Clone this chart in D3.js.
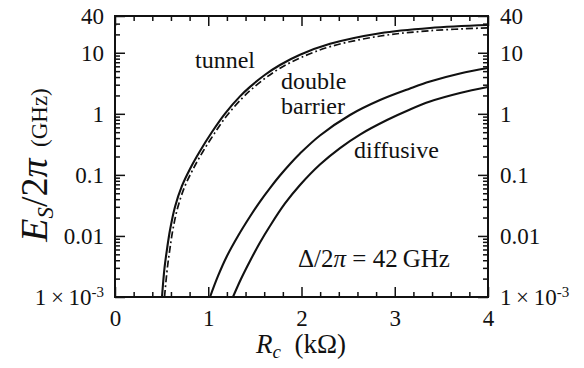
<!DOCTYPE html>
<html><head><meta charset="utf-8">
<script src="https://cdn.jsdelivr.net/npm/d3@7"></script>
<style>
body{margin:0;background:#fff}
svg text{font-family:"Liberation Serif","Times New Roman","DejaVu Serif",serif;fill:#111}
</style>
</head><body>
<svg id="c" width="584" height="368"></svg>
<script>
// ---- data ----
const tunnelR = [0.504,0.531,0.558,0.590,0.643,0.718,0.804,0.912,1.040,1.180,1.340,1.448,1.609,1.769,1.984,2.306,2.842,3.378,4.0];
const tunnelE = [0.001,0.00299,0.00611,0.0125,0.0298,0.0658,0.125,0.246,0.504,1.01,1.93,2.76,4.36,6.31,9.27,14.0,20.9,25.5,28.5];
const tunnelApproxR = [0.531,0.561,0.588,0.619,0.672,0.746,0.831,0.937,1.065,1.203,1.362,1.468,1.626,1.784,1.997,2.314,2.846,3.380,4.0];
const tunnelApproxE = [0.001,0.00295,0.00602,0.0123,0.0290,0.0633,0.119,0.233,0.474,0.948,1.79,2.55,3.99,5.75,8.39,12.7,18.8,23.0,25.6];
const doubleR = [1.019,1.105,1.201,1.319,1.448,1.555,1.662,1.769,1.877,1.984,2.198,2.520,2.842,3.164,3.378,3.700,4.0];
const doubleE = [0.001,0.00221,0.00469,0.00998,0.0208,0.0366,0.0609,0.0977,0.151,0.224,0.442,0.957,1.68,2.60,3.38,4.57,5.63];
const diffusiveR = [1.265,1.351,1.448,1.555,1.662,1.823,1.984,2.198,2.413,2.627,2.917,3.164,3.378,3.700,4.0];
const diffusiveE = [0.001,0.00197,0.00389,0.00781,0.01455,0.0340,0.0683,0.148,0.275,0.458,0.792,1.18,1.59,2.19,2.75];
const xTicks = [0,1,2,3,4];
const xTickLabels = ["0","1","2","3","4"];
const yTicks = [40,10,1,0.1,0.01,0.001];
const yTickLabels = ["40","10","1","0.1","0.01","1\u2009×\u200910^-3"];

// ---- layout ----
const L = 115, R = 488, T = 16, B = 297;
const svg = d3.select("#c");
const x = d3.scaleLinear().domain([0,4]).range([L,R]);
const y = d3.scaleLog().domain([0.001,40]).range([B,T]);

const xMinor = d3.range(0,21).map(i=>i*0.2).filter(v=>Math.abs(v-Math.round(v))>1e-6);
const yMinor = [];
for (let d=-3; d<=1; d++) for (let k=2;k<=9;k++){ const v=k*Math.pow(10,d); if (v<40) yMinor.push(v); }

svg.append("clipPath").attr("id","clip").append("rect")
  .attr("x",L).attr("y",T).attr("width",R-L).attr("height",B-T);

function styleAxis(g){
  g.select(".domain").remove();
  g.selectAll("line").attr("stroke","#111").attr("stroke-width",1.5);
  g.selectAll("text").style("font-size","23px").attr("fill","#111")
    .style("font-family","'Liberation Serif','Times New Roman',serif");
}

// bottom
svg.append("g").attr("transform",`translate(0,${B})`)
  .call(d3.axisBottom(x).tickValues(xTicks).tickFormat((d,i)=>xTickLabels[i]).tickSizeInner(-10).tickSizeOuter(0).tickPadding(13))
  .call(styleAxis);
svg.append("g").attr("transform",`translate(0,${B})`)
  .call(d3.axisBottom(x).tickValues(xMinor).tickFormat("").tickSizeInner(-5).tickSizeOuter(0)).call(styleAxis);
// top
svg.append("g").attr("transform",`translate(0,${T})`)
  .call(d3.axisTop(x).tickValues(xTicks).tickFormat("").tickSizeInner(-10).tickSizeOuter(0)).call(styleAxis);
svg.append("g").attr("transform",`translate(0,${T})`)
  .call(d3.axisTop(x).tickValues(xMinor).tickFormat("").tickSizeInner(-5).tickSizeOuter(0)).call(styleAxis);
// left
svg.append("g").attr("transform",`translate(${L},0)`)
  .call(d3.axisLeft(y).tickValues(yTicks).tickFormat("").tickSizeInner(-10).tickSizeOuter(0)).call(styleAxis);
svg.append("g").attr("transform",`translate(${L},0)`)
  .call(d3.axisLeft(y).tickValues(yMinor).tickFormat("").tickSizeInner(-5).tickSizeOuter(0)).call(styleAxis);
// right
svg.append("g").attr("transform",`translate(${R},0)`)
  .call(d3.axisRight(y).tickValues(yTicks).tickFormat("").tickSizeInner(-10).tickSizeOuter(0)).call(styleAxis);
svg.append("g").attr("transform",`translate(${R},0)`)
  .call(d3.axisRight(y).tickValues(yMinor).tickFormat("").tickSizeInner(-5).tickSizeOuter(0)).call(styleAxis);

// y tick labels (both sides)
function yLabel(sel, i){
  const s = yTickLabels[i];
  if (s.indexOf("^")>=0){
    const [a,b] = s.split("^");
    sel.append("tspan").text(a);
    sel.append("tspan").text(b).style("font-size","15px").attr("dy",-8);
  } else sel.text(s);
}
yTicks.forEach((v,i)=>{
  const tl = svg.append("text").attr("x",L-11).attr("y",y(v)).attr("dy","0.35em")
    .attr("text-anchor","end").style("font-size","23px");
  yLabel(tl,i);
  const tr = svg.append("text").attr("x",R+12).attr("y",y(v)).attr("dy","0.35em")
    .attr("text-anchor","start").style("font-size","23px");
  yLabel(tr,i);
});

// frame
svg.append("rect").attr("x",L).attr("y",T).attr("width",R-L).attr("height",B-T)
  .attr("fill","none").attr("stroke","#111").attr("stroke-width",2);

// curves
const line = d3.line().x(d=>x(d[0])).y(d=>y(d[1])).curve(d3.curveCatmullRom.alpha(0.5));
const series = [
  {r:tunnelR, e:tunnelE, dash:null},
  {r:tunnelApproxR, e:tunnelApproxE, dash:"7,3,1.8,3"},
  {r:doubleR, e:doubleE, dash:null},
  {r:diffusiveR, e:diffusiveE, dash:null}
];
const gc = svg.append("g").attr("clip-path","url(#clip)");
series.forEach(s=>{
  gc.append("path").datum(s.r.map((r,i)=>[r,s.e[i]]))
    .attr("d",line).attr("fill","none").attr("stroke","#111")
    .attr("stroke-width",s.dash?1.7:2.1).attr("stroke-dasharray",s.dash);
});

// annotations
function ann(tx,ty,str){ svg.append("text").attr("x",tx).attr("y",ty).style("font-size","24px").text(str); }
ann(195,68,"tunnel");
ann(281,89,"double");
ann(281,114,"barrier");
ann(354,158,"diffusive");
const dl = svg.append("text").attr("x",298).attr("y",267).style("font-size","25px");
dl.append("tspan").text("Δ/2");
dl.append("tspan").text("π").style("font-style","italic");
dl.append("tspan").text(" = 42\u2009GHz");

// x title
const xt = svg.append("text").attr("x",301).attr("y",353).attr("text-anchor","middle").style("font-size","27px");
xt.append("tspan").text("R").style("font-style","italic");
xt.append("tspan").text("c").style("font-style","italic").style("font-size","19px").attr("dy",5);
xt.append("tspan").text("\u2002(kΩ)").attr("dy",-5);

// y title
const yt = svg.append("text").attr("transform","translate(47,165) rotate(-90)").attr("text-anchor","middle");
yt.append("tspan").text("E").style("font-style","italic").style("font-size","38px");
yt.append("tspan").text("S").style("font-style","italic").style("font-size","23px").attr("dy",6);
yt.append("tspan").text("/2").style("font-size","38px").attr("dy",-6);
yt.append("tspan").text("π").style("font-style","italic").style("font-size","38px");
yt.append("tspan").text("\u2002(GHz)").style("font-size","23px");
</script>
</body></html>
